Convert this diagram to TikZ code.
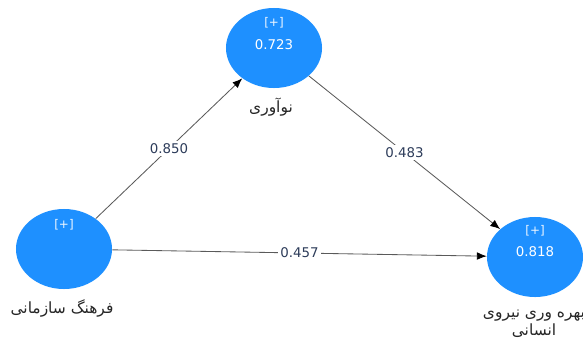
\documentclass[tikz,border=0pt]{standalone}
\usepackage{fontspec}
\setmainfont{DejaVu Sans}
\newfontfamily\arabicfont[Script=Arabic]{DejaVu Sans}
\TeXXeTstate=1
\definecolor{latentblue}{RGB}{30,144,255}
\definecolor{pathtext}{RGB}{45,60,90}
\definecolor{pathline}{RGB}{90,90,90}
\usetikzlibrary{calc, arrows.meta, shapes.geometric}

\begin{document}
\begin{tikzpicture}[x=0.025cm, y=-0.025cm,
    latent/.style={ellipse, fill=latentblue, minimum width=2.4cm, minimum height=2cm, inner sep=0pt},
    plus/.style={text=white!92!latentblue, font=\fontsize{8.5}{10}\selectfont},
    rsq/.style={text=white, font=\fontsize{9.5}{11}\selectfont},
    weight/.style={fill=white, text=pathtext, inner sep=1.5pt, font=\fontsize{9.5}{11}\selectfont},
    varname/.style={text=black!85, align=center, font=\fontsize{11}{12.5}\selectfont\arabicfont},
    path/.style={draw=pathline, line width=0.6pt, -{Latex[length=7pt, width=5.5pt, black]}}]
    \useasboundingbox (0,0) rectangle (583,337);
    % latent variables
    \node[latent] (innov) at (274,48) {};
    \node[latent] (culture) at (64,249) {};
    \node[latent] (product) at (535,257) {};
    \node[plus] at ($(innov)+(0,-25)$) {[+]};
    \node[rsq] at ($(innov)+(0,-3)$) {0.723};
    \node[plus] at ($(culture)+(0,-24)$) {[+]};
    \node[plus] at ($(product)+(0,-26)$) {[+]};
    \node[rsq] at ($(product)+(0,-5)$) {0.818};
    \node[varname] (innovname) at (271,107) {\beginR نوآوری\endR};
    \node[varname] (culturename) at (62,308) {\beginR فرهنگ سازمانی\endR};
    \node[varname] (productname) at (534,324) {\beginR بهره وری نیروی\endR\\\beginR انسانی\endR};
    % paths
    \draw[path] (culture) -- (innov);
    \draw[path] (innov) -- (product);
    \draw[path] (culture) -- (product);
    \node[weight] (w1) at ($(culture)!0.5!(innov)$) {0.850};
    \node[weight] (w2) at ($(innov)!0.5!(product)$) {0.483};
    \node[weight] (w3) at ($(culture)!0.5!(product)$) {0.457};
\end{tikzpicture}
\end{document}
